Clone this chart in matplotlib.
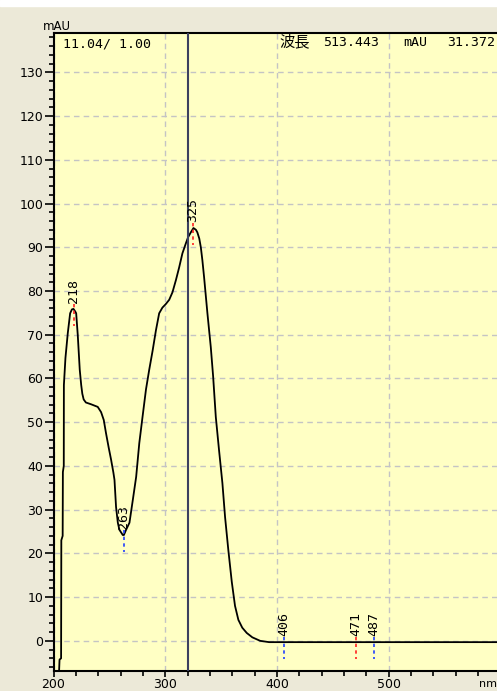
import matplotlib
matplotlib.use("Agg")
import matplotlib.pyplot as plt
from matplotlib.patches import Rectangle
from matplotlib.ticker import MultipleLocator, FixedLocator

# spectrum (nm, mAU)
wavelength = [205.0, 205.4, 206.8, 207.0, 208.2, 208.4, 209.2, 209.3, 210.7, 212.8,
              214.9, 216.5, 217.9, 219.5, 220.3, 221.7, 222.6, 223.5, 224.8, 225.8,
              227.0, 229.0, 233.6, 239.6, 242.6, 245.0, 247.0, 249.4, 251.5, 253.6,
              254.6, 256.0, 257.6, 259.0, 262.0, 263.0, 265.0, 268.0, 271.0, 274.0,
              276.8, 279.7, 282.8, 285.7, 288.7, 291.7, 294.6, 297.5, 300.5, 303.6,
              306.5, 309.6, 312.5, 315.4, 318.5, 320.5, 322.9, 325.3, 327.5, 328.8,
              330.5, 331.9, 333.3, 334.8, 337.8, 340.8, 342.9, 345.3, 348.2, 351.2,
              353.6, 356.5, 359.6, 362.5, 365.5, 369.0, 373.0, 378.0, 385.0, 393.0,
              600.0]
absorbance = [-6.9, -4.3, -4.0, 23.0, 24.0, 38.6, 40.0, 58.5, 64.7, 70.4,
              74.9, 75.8, 75.9, 75.3, 74.9, 70.0, 66.0, 62.0, 58.5, 56.5,
              55.2, 54.5, 54.1, 53.5, 52.3, 50.5, 47.5, 44.2, 41.5, 38.5,
              36.8, 30.6, 27.0, 25.4, 24.2, 24.2, 25.4, 27.0, 32.2, 37.5,
              45.2, 51.2, 57.5, 62.0, 66.3, 71.0, 74.9, 76.2, 77.0, 78.0,
              79.7, 82.5, 85.4, 88.6, 90.9, 92.3, 93.4, 94.4, 94.0, 93.4,
              92.0, 90.0, 87.0, 83.2, 74.9, 67.2, 60.5, 51.2, 43.6, 36.1,
              28.3, 20.8, 13.5, 8.0, 4.8, 3.0, 1.8, 0.8, 0.0, -0.3,
              -0.3]

# detected peaks / valleys
peak_nm = [218, 325, 263, 406, 471, 487]
peak_mau = [75.9, 94.4, 24.2, -0.3, -0.3, -0.3]
peak_kind = ["max", "max", "min", "min", "max", "min"]

cursor_nm = 320.8
header_left = "11.04/ 1.00"
header_right = ["波長", "513.443", "mAU", "31.372"]
header_right_px = [279, 323, 403, 447]
header_right_size = [11, 9.5, 9.5, 9.5]

W, H = 497, 691
fig = plt.figure(figsize=(W / 100, H / 100), dpi=100, facecolor="#ECE9D8")
fig.patches.append(Rectangle((0, 1 - 6 / H), 1, 6 / H, transform=fig.transFigure,
                             color="white", zorder=0))

left, right, top, bottom = 53.5, 53.5 + 400 * 1.117, 33, 671
ax = fig.add_axes([left / W, 1 - bottom / H, (right - left) / W, (bottom - top) / H])
ax.set_facecolor("#FFFFC4")

ax.set_xlim(200, 600)
ax.set_ylim(-6.9, 139)

ax.xaxis.set_major_locator(FixedLocator([200, 300, 400, 500]))
ax.xaxis.set_minor_locator(MultipleLocator(20))
ax.yaxis.set_major_locator(FixedLocator(list(range(0, 131, 10))))
ax.yaxis.set_minor_locator(MultipleLocator(2))

ax.grid(True, which="major", color="#C4C4C4", linestyle=(0, (4, 3)), linewidth=1)
ax.set_axisbelow(True)

for s in ["left", "bottom", "top"]:
    ax.spines[s].set_linewidth(1.5)
    ax.spines[s].set_color("black")
ax.spines["right"].set_visible(False)

ax.tick_params(axis="y", which="major", direction="out", length=6.5, width=1.2,
               labelsize=9, pad=1)
ax.tick_params(axis="y", which="minor", direction="out", length=3.6, width=1.2)
ax.tick_params(axis="x", which="major", direction="out", length=4, width=1.2,
               labelsize=9, pad=1)
ax.tick_params(axis="x", which="minor", direction="out", length=3.5, width=1.2)

ax.plot(wavelength, absorbance, color="black", linewidth=1.3, zorder=3)
ax.axvline(cursor_nm, color="#3C4060", linewidth=1.5, zorder=4)

for nm, v, kind in zip(peak_nm, peak_mau, peak_kind):
    col = "#FF2020" if kind == "max" else "#2040FF"
    ax.plot([nm, nm], [v + 1.2, v - 3.8], color=col, linewidth=1.2,
            linestyle=(0, (2, 2)), zorder=5)
    ax.annotate(str(nm), (nm, v), xytext=(0, 4.5), textcoords="offset points",
                rotation=90, ha="center", va="bottom", fontsize=9.5,
                family="DejaVu Sans Mono", zorder=6)

fam = ["DejaVu Sans Mono", "Noto Sans CJK JP"]
fig.text(63 / W, 1 - 44 / H, header_left, fontsize=9.5, family=fam,
         ha="left", va="center")
for txt, px, fs in zip(header_right, header_right_px, header_right_size):
    fig.text(px / W, 1 - 42 / H, txt, fontsize=fs, family=fam,
             ha="left", va="center")
fig.text(43 / W, 1 - 26 / H, "mAU", fontsize=8.5, ha="left", va="center")
fig.text(479 / W, 1 - 684 / H, "nm", fontsize=8, ha="left", va="center")

fig.savefig("out.png", dpi=100, facecolor=fig.get_facecolor())
